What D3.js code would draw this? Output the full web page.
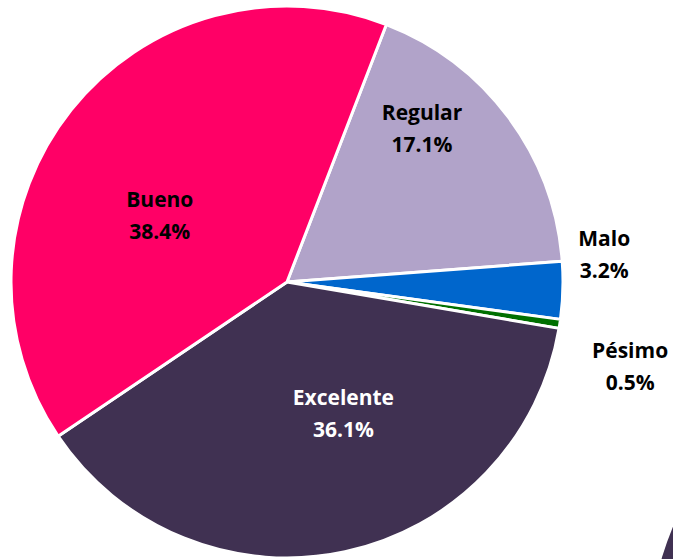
<!DOCTYPE html>
<html>
<head>
<meta charset="utf-8">
<script src="https://cdn.jsdelivr.net/npm/d3@7"></script>
<style>
  html, body { margin: 0; padding: 0; background: #fff; }
  svg { display: block; }
  text { font-family: "Open Sans", sans-serif; font-weight: bold; font-size: 21px; }
</style>
</head>
<body>
<svg id="chart"></svg>
<script>
// data (clockwise from the top)
const categories = ['Regular', 'Malo', 'Pésimo', 'Excelente', 'Bueno'];
const percents = [17.1, 3.2, 0.5, 36.1, 38.4];
const percentLabels = ['17.1%', '3.2%', '0.5%', '36.1%', '38.4%'];
const colors = ['#b1a3c9', '#0066cc', '#007000', '#403152', '#ff0066'];
const labelColors = ['#000', '#000', '#000', '#fff', '#000'];

const width = 673, height = 559;
const cx = 287, cy = 282, radius = 276;
const startDeg = 21.1;

const svg = d3.select('#chart')
    .attr('width', width)
    .attr('height', height);

// edge of the neighbouring chart, cut off at the corner
svg.append('circle')
    .attr('cx', 940)
    .attr('cy', 640)
    .attr('r', 290)
    .attr('fill', '#403152');

const g = svg.append('g')
    .attr('transform', `translate(${cx}, ${cy})`);

const pie = d3.pie()
    .sort(null)
    .value(d => d)
    .startAngle(startDeg * Math.PI / 180)
    .endAngle(startDeg * Math.PI / 180 + 2 * Math.PI);

const arcs = pie(percents);

const arc = d3.arc()
    .innerRadius(0)
    .outerRadius(radius);

g.selectAll('path.slice')
    .data(arcs)
    .enter().append('path')
    .attr('class', 'slice')
    .attr('d', arc)
    .attr('fill', (d, i) => colors[i])
    .attr('stroke', '#fff')
    .attr('stroke-width', 3)
    .attr('stroke-linejoin', 'round');

// label placement: big slices inside, small ones outside
const lineGap = 32;
const labels = arcs.map((d, i) => {
    const share = (d.endAngle - d.startAngle) / (2 * Math.PI);
    let a = (d.startAngle + d.endAngle) / 2;
    let r;
    let outside = false;
    if (share > 0.3) {
        r = radius * 0.52;
        a -= 11 * Math.PI / 180;
    } else if (share > 0.1) {
        r = radius * 0.74;
        a -= 12 * Math.PI / 180;
    } else {
        r = radius * 1.15;
        outside = true;
    }
    return { i, outside, x: Math.sin(a) * r, y: -Math.cos(a) * r };
});

// spread the outside labels so they don't collide
const outs = labels.filter(l => l.outside).sort((a, b) => a.y - b.y);
const minGap = 112;
for (let k = 1; k < outs.length; k++) {
    const gap = outs[k].y - outs[k - 1].y;
    if (gap < minGap) {
        const push = (minGap - gap) / 2;
        outs[k - 1].y -= push;
        outs[k].y += push;
        outs[k].x += push * 0.8;
    }
}

const lg = g.selectAll('g.label')
    .data(labels)
    .enter().append('g')
    .attr('class', 'label')
    .attr('transform', d => `translate(${d.x}, ${d.y})`);

lg.append('text')
    .attr('text-anchor', 'middle')
    .attr('y', -lineGap / 2)
    .attr('dy', '0.35em')
    .attr('fill', d => labelColors[d.i])
    .text(d => categories[d.i]);

lg.append('text')
    .attr('text-anchor', 'middle')
    .attr('y', lineGap / 2)
    .attr('dy', '0.35em')
    .attr('fill', d => labelColors[d.i])
    .text(d => percentLabels[d.i]);
</script>
</body>
</html>
